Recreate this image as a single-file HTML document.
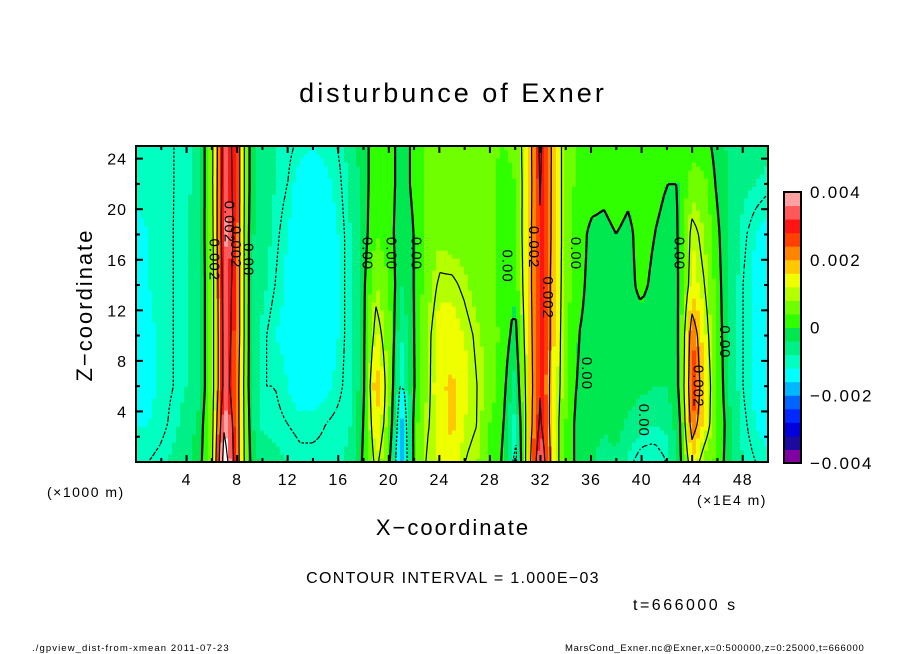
<!DOCTYPE html>
<html><head><meta charset="utf-8">
<style>
html,body{margin:0;padding:0;background:#fff;}
svg{display:block;font-family:"Liberation Sans",sans-serif;}
</style></head>
<body>
<svg id="chart" width="904" height="654" viewBox="0 0 904 654" xmlns="http://www.w3.org/2000/svg">
<rect width="904" height="654" fill="#fff"/>
<text x="453" y="102" font-size="27" text-anchor="middle" letter-spacing="3">disturbunce of Exner</text>
<g id="field"></g>
<g id="contours"></g>
<g id="labels"></g>
<rect x="136" y="146" width="632" height="316" fill="none" stroke="#000" stroke-width="2"/>
<g id="axes"></g>
<g id="cbar"></g>
<text transform="translate(92,305) rotate(-90)" font-size="22" text-anchor="middle" letter-spacing="2">Z−coordinate</text>
<text x="453" y="535" font-size="22" text-anchor="middle" letter-spacing="2">X−coordinate</text>
<text x="47" y="497" font-size="14" letter-spacing="1.5">(×1000 m)</text>
<text x="697" y="505" font-size="14" letter-spacing="1.5">(×1E4 m)</text>
<text x="453" y="583" font-size="16" text-anchor="middle" letter-spacing="1.3">CONTOUR INTERVAL = 1.000E−03</text>
<text x="633" y="610" font-size="16" letter-spacing="2.5">t=666000 s</text>
<text x="32" y="651" font-size="9.5" letter-spacing="1.1">./gpview_dist-from-xmean  2011-07-23</text>
<text x="565" y="651" font-size="9.5" letter-spacing="0.7">MarsCond_Exner.nc@Exner,x=0:500000,z=0:25000,t=666000</text>
</svg>
<script>
// data (units of 1e-3), columns at x = 0..50 (x1E4 m), rows at zRows (x1000 m)
const zRows = [0,3,6,10,14,18,22,25];
const field = [
[-1.0,-1.2,-1.4,-1.4,-1.4,-1.3,-1.1,-1.1],
[-1.0,-1.2,-1.3,-1.3,-1.2,-1.2,-1.1,-1.1],
[-0.9,-1.1,-1.1,-1.1,-1.1,-1.1,-1.1,-1.1],
[-0.7,-0.9,-1.0,-1.0,-1.0,-1.0,-1.0,-1.0],
[-0.5,-0.6,-0.8,-0.8,-0.8,-0.8,-0.9,-0.9],
[-0.2,-0.3,-0.5,-0.5,-0.5,-0.5,-0.6,-0.6],
[0.8,0.7,0.6,0.6,0.6,0.7,0.8,0.8],
[4.6,4.0,3.4,3.4,3.5,3.8,3.6,3.5],
[2.4,2.4,2.4,2.6,2.6,2.6,2.6,2.6],
[-0.1,-0.2,-0.3,-0.3,-0.3,-0.3,-0.2,-0.2],
[-0.5,-0.9,-1.0,-0.9,-0.7,-0.6,-0.6,-0.6],
[-0.7,-0.9,-1.0,-1.2,-1.0,-0.9,-0.8,-0.8],
[-0.8,-1.0,-1.2,-1.3,-1.3,-1.2,-1.0,-0.9],
[-0.9,-1.1,-1.4,-1.5,-1.5,-1.5,-1.4,-1.1],
[-0.9,-1.1,-1.4,-1.5,-1.5,-1.5,-1.4,-1.2],
[-0.9,-1.0,-1.3,-1.4,-1.4,-1.4,-1.3,-1.1],
[-0.9,-0.9,-1.1,-1.2,-1.2,-1.2,-1.1,-1.0],
[-0.7,-0.8,-0.8,-0.8,-0.8,-0.8,-0.7,-0.6],
[0.1,0.0,-0.1,-0.1,-0.1,-0.2,-0.2,-0.2],
[1.2,1.6,2.0,1.3,0.8,0.4,0.3,0.3],
[0.2,0.6,0.6,0.6,0.4,0.2,0.2,0.2],
[-2.0,-1.8,-1.2,-0.8,-0.4,-0.3,-0.2,-0.2],
[0.2,0.2,0.0,0.0,0.0,0.0,0.1,0.1],
[1.1,0.9,0.8,0.8,0.6,0.5,0.5,0.5],
[1.2,1.4,1.5,1.4,1.1,0.7,0.6,0.6],
[1.5,1.7,1.7,1.4,1.1,0.6,0.6,0.6],
[1.0,1.2,1.3,1.2,0.9,0.6,0.5,0.5],
[0.8,1.0,1.0,0.9,0.6,0.5,0.5,0.5],
[0.3,0.4,0.6,0.6,0.5,0.5,0.5,0.5],
[0.0,0.1,0.2,0.3,0.3,0.3,0.2,0.4],
[-1.3,-1.0,-0.6,-0.2,0.1,0.3,0.4,0.5],
[1.5,1.4,1.4,1.5,1.6,1.6,1.5,1.5],
[3.8,3.2,3.0,3.0,3.0,3.0,3.1,3.2],
[1.5,1.5,1.6,1.7,1.7,1.8,1.8,1.8],
[0.4,0.4,0.5,0.5,0.6,0.6,0.6,0.6],
[-0.2,-0.2,-0.1,0.0,0.1,0.2,0.3,0.3],
[-0.3,-0.1,0.0,-0.1,-0.1,-0.1,0.2,0.3],
[-0.7,-0.3,-0.2,-0.1,-0.1,-0.1,0.1,0.2],
[-0.5,-0.2,-0.1,-0.1,-0.1,0.0,0.2,0.3],
[-0.9,-0.5,-0.2,-0.1,-0.1,-0.1,0.1,0.2],
[-1.2,-0.7,-0.3,-0.2,0.1,0.2,0.3,0.3],
[-1.2,-0.8,-0.4,-0.3,-0.1,0.0,0.1,0.2],
[-1.0,-0.7,-0.4,-0.3,-0.2,-0.1,0.0,0.1],
[-0.2,-0.1,0.0,0.0,0.0,0.0,0.0,0.0],
[1.5,2.4,2.8,2.5,1.4,1.2,0.6,0.3],
[0.6,1.4,1.5,1.3,1.0,0.8,0.5,0.2],
[0.3,0.4,0.4,0.3,0.2,0.1,-0.1,-0.2],
[-0.3,-0.3,-0.5,-0.5,-0.5,-0.5,-0.5,-0.5],
[-0.8,-0.9,-1.0,-1.0,-1.0,-0.9,-0.7,-0.6],
[-1.0,-1.2,-1.3,-1.3,-1.3,-1.2,-0.8,-0.6],
[-1.1,-1.4,-1.5,-1.5,-1.5,-1.4,-0.9,-0.7]
];
const contourLevels = [-1,0,1,2,3,4];
const xTicks = [4,8,12,16,20,24,28,32,36,40,44,48];
const zTicks = [4,8,12,16,20,24];
const cbarLabels = ["0.004","0.002","0","−0.002","−0.004"];
const cbarLabelVals = [4,2,0,-2,-4];
const contourLabels = [[6.2,16,"0.002"],[7.9,17,"0.002"],[7.4,19,"0.002"],[8.9,16,"0.00"],[18.3,16.5,"0.00"],[20.2,16.5,"0.00"],[22.2,16.5,"0.00"],[29.4,15.5,"0.00"],[31.5,17,"0.002"],[32.6,13,"0.002"],[34.8,16.5,"0.00"],[35.7,7,"0.00"],[40.2,3.3,"0.00"],[43.0,16.5,"0.00"],[46.6,9.5,"0.00"],[44.5,6,"0.002"]];

const X0=136,X1=768,Y0=462,Y1=146;
const sx = x => X0 + (X1-X0)*x/50;
const sz = z => Y0 - (Y0-Y1)*z/25;
const NS="http://www.w3.org/2000/svg";
function val(x,z){
  let i=Math.min(Math.floor(x),field.length-2); let tx=x-i;
  let k=0; while(k<zRows.length-2 && z>zRows[k+1]) k++;
  let tz=(z-zRows[k])/(zRows[k+1]-zRows[k]); tz=Math.max(0,Math.min(1,tz));
  const a=field[i][k],b=field[i+1][k],c=field[i][k+1],d=field[i+1][k+1];
  return (a*(1-tx)+b*tx)*(1-tz)+(c*(1-tx)+d*tx)*tz;
}
const pal=["#8000a0","#1a0aa0","#0000dc","#0028ff","#0064ff","#00b8ff","#00ffff","#00ffc0","#00f088","#00e850",
  "#30ff00","#70ff00","#b4ff00","#f0ff00","#ffc800","#ff8400","#ff4000","#ff1414","#ff5858","#ffa0a0"];
function colorOf(v){
  if(v>=4) return "#ffffff";
  let idx=Math.floor((v+4)/0.4); idx=Math.max(0,Math.min(19,idx));
  return pal[idx];
}
const NX=158,NZ=79;
const fieldG=document.getElementById('field');
for(let j=0;j<NZ;j++){
  let runStart=0, runCol=null;
  for(let i=0;i<=NX;i++){
    let col=null;
    if(i<NX){ const x=(i+0.5)*50/NX, z=(j+0.5)*25/NZ; col=colorOf(val(x,z)); }
    if(col!==runCol){
      if(runCol!==null){
        const r=document.createElementNS(NS,'rect');
        
        
        const xa=sx(runStart*50/NX), xb=sx(i*50/NX);
        r.setAttribute('x',xa); r.setAttribute('width',xb-xa+0.6);
        r.setAttribute('y',sz((j+1)*25/NZ)); r.setAttribute('height',(Y0-Y1)/NZ+0.6);
        r.setAttribute('fill',runCol); fieldG.appendChild(r);
      }
      runStart=i; runCol=col;
    }
  }
}
// contours via marching squares
const cg=document.getElementById('contours');
const grid=[];
for(let i=0;i<=NX;i++){grid.push([]);for(let j=0;j<=NZ;j++){grid[i].push(val(i*50/NX,j*25/NZ));}}
contourLevels.forEach(L=>{
  let d="";
  for(let i=0;i<NX;i++)for(let j=0;j<NZ;j++){
    const c=[[i,j],[i+1,j],[i+1,j+1],[i,j+1]];
    const pts=[];
    for(let e=0;e<4;e++){
      const p=c[e],q=c[(e+1)%4];
      const a=grid[p[0]][p[1]]-L,b=grid[q[0]][q[1]]-L;
      if((a<0)!==(b<0)){
        const t=a/(a-b);
        const gx=p[0]+(q[0]-p[0])*t, gz=p[1]+(q[1]-p[1])*t;
        pts.push([sx(gx*50/NX),sz(gz*25/NZ)]);
      }
    }
    for(let k=0;k+1<pts.length;k+=2){
      d+="M"+pts[k][0].toFixed(1)+" "+pts[k][1].toFixed(1)+"L"+pts[k+1][0].toFixed(1)+" "+pts[k+1][1].toFixed(1);
    }
  }
  const p=document.createElementNS(NS,'path');
  
  
  p.setAttribute('d',d); p.setAttribute('fill','none'); p.setAttribute('stroke','#000');
  p.setAttribute('stroke-width', L===0?2.2:1.2);
  if(L<0) p.setAttribute('stroke-dasharray','2.5 2');
  cg.appendChild(p);
});
// contour labels
const lg=document.getElementById('labels');
contourLabels.forEach(l=>{
  const t=document.createElementNS(NS,'text');
  
  
  t.setAttribute('transform','translate('+sx(l[0])+','+sz(l[1])+') rotate(90)');
  t.setAttribute('font-size','15'); t.setAttribute('text-anchor','middle'); t.setAttribute('dy','5');
  t.setAttribute('letter-spacing','1');
  t.textContent=l[2]; lg.appendChild(t);
});
// axes
const ag=document.getElementById('axes');
function line(x1,y1,x2,y2,name,w){const e=document.createElementNS(NS,'line');
  
  
  e.setAttribute('x1',x1);e.setAttribute('y1',y1);e.setAttribute('x2',x2);e.setAttribute('y2',y2);
  e.setAttribute('stroke','#000');e.setAttribute('stroke-width',w||2);ag.appendChild(e);}
for(let x=2;x<50;x+=2){const major=x%4===0;const L=major?7:4;
  line(sx(x),Y0,sx(x),Y0-L,'x-tick');line(sx(x),Y1,sx(x),Y1+L,'x-tick-top');}
for(let z=2;z<25;z+=2){const major=z%4===0;const L=major?7:4;
  line(X0,sz(z),X0+L,sz(z),'z-tick');line(X1,sz(z),X1-L,sz(z),'z-tick-right');}
xTicks.forEach(x=>{const t=document.createElementNS(NS,'text');
  
  
  t.setAttribute('x',sx(x));t.setAttribute('y',485);t.setAttribute('font-size','16');t.setAttribute('text-anchor','middle');
  t.setAttribute('letter-spacing','1');
  t.textContent=x;ag.appendChild(t);});
zTicks.forEach(z=>{const t=document.createElementNS(NS,'text');
  
  
  t.setAttribute('x',127);t.setAttribute('y',sz(z)+6);t.setAttribute('font-size','16');t.setAttribute('text-anchor','end');
  t.setAttribute('letter-spacing','1');
  t.textContent=z;ag.appendChild(t);});
// colorbar
const cb=document.getElementById('cbar');
const CB0=463,CB1=192,CX=784,CW=17;
const cy=v=>CB0-(CB0-CB1)*(v+4)/8;
for(let k=0;k<20;k++){const v=-4+k*0.4;const r=document.createElementNS(NS,'rect');
  
  
  r.setAttribute('x',CX);r.setAttribute('width',CW);r.setAttribute('y',cy(v+0.4));r.setAttribute('height',cy(v)-cy(v+0.4)+0.5);
  r.setAttribute('fill',colorOf(v+0.2));cb.appendChild(r);}
const fr=document.createElementNS(NS,'rect');


fr.setAttribute('x',CX);fr.setAttribute('y',CB1);fr.setAttribute('width',CW);fr.setAttribute('height',CB0-CB1);
fr.setAttribute('fill','none');fr.setAttribute('stroke','#000');fr.setAttribute('stroke-width','2');cb.appendChild(fr);
cbarLabels.forEach((s,k)=>{const t=document.createElementNS(NS,'text');
  
  
  t.setAttribute('x',810);t.setAttribute('y',cy(cbarLabelVals[k])+6);t.setAttribute('font-size','17');
  t.setAttribute('letter-spacing','1.8');
  t.textContent=s;cb.appendChild(t);});
</script>
</body></html>
